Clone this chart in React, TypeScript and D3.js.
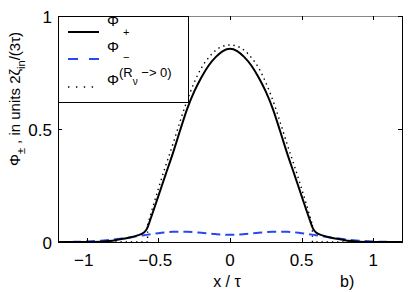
import React, { useEffect, useRef } from 'react';
import * as d3 from 'd3';

// Φ+ (solid black)
const plusX = [-1.2, -1.0, -0.9, -0.85, -0.8, -0.75, -0.7, -0.65, -0.6, -0.58, -0.55, -0.5, -0.45, -0.4, -0.35, -0.3, -0.25, -0.2, -0.15, -0.1, -0.05, 0,
  0.05, 0.1, 0.15, 0.2, 0.25, 0.3, 0.35, 0.4, 0.45, 0.5, 0.55, 0.58, 0.6, 0.65, 0.7, 0.75, 0.8, 0.85, 0.9, 1.0, 1.2];
const plusY = [0, 0, 0.001, 0.004, 0.008, 0.014, 0.02, 0.028, 0.042, 0.058, 0.11, 0.203, 0.297, 0.39, 0.49, 0.587, 0.665, 0.728, 0.78, 0.818, 0.845, 0.855,
  0.845, 0.818, 0.78, 0.728, 0.665, 0.587, 0.49, 0.39, 0.297, 0.203, 0.11, 0.058, 0.042, 0.028, 0.02, 0.014, 0.008, 0.004, 0.001, 0, 0];

// Φ- (blue dashed)
const minusX = [-1.2, -1.1, -1.0, -0.9, -0.8, -0.7, -0.6, -0.5, -0.4, -0.3, -0.2, -0.1, 0, 0.1, 0.2, 0.3, 0.4, 0.5, 0.6, 0.7, 0.8, 0.9, 1.0, 1.1, 1.2];
const minusY = [0, 0.0005, 0.002, 0.006, 0.012, 0.02, 0.03, 0.039, 0.045, 0.045, 0.041, 0.035, 0.032, 0.035, 0.041, 0.045, 0.045, 0.039, 0.03, 0.02, 0.012, 0.006, 0.002, 0.0005, 0];

// Φ(Rν -> 0) (dotted), central part plus zero tails
const dotX = [-0.575, -0.55, -0.5, -0.45, -0.4, -0.35, -0.3, -0.25, -0.2, -0.15, -0.1, -0.05, 0, 0.05, 0.1, 0.15, 0.2, 0.25, 0.3, 0.35, 0.4, 0.45, 0.5, 0.55, 0.575];
const dotY = [0.075, 0.13, 0.235, 0.335, 0.43, 0.53, 0.625, 0.705, 0.77, 0.815, 0.848, 0.866, 0.872, 0.866, 0.848, 0.815, 0.77, 0.705, 0.625, 0.53, 0.43, 0.335, 0.235, 0.13, 0.075];
const dotTailLeftX = [-1.2, -0.575, -0.575];
const dotTailLeftY = [0, 0, 0.075];
const dotTailRightX = [0.575, 0.575, 1.2];
const dotTailRightY = [0.075, 0, 0];

const xTicks = [-1, -0.5, 0, 0.5, 1];
const xTickLabels = ['−1', '−0.5', '0', '0.5', '1'];
const yTicks = [0, 0.5, 1];
const yTickLabels = ['0', '0.5', '1'];

const W = 409;
const H = 292;
const FONT = '"Liberation Sans", Arial, Helvetica, sans-serif';

export default function App() {
  const ref = useRef<SVGSVGElement | null>(null);

  useEffect(() => {
    if (!ref.current) return;
    const svg = d3.select(ref.current);
    svg.selectAll('*').remove();

    const left = 58, right = 402, top = 16, bottom = 242;
    const x = d3.scaleLinear().domain([-1.2, 1.2]).range([left, right]);
    const y = d3.scaleLinear().domain([0, 1]).range([bottom, top]);

    svg.append('rect').attr('width', W).attr('height', H).attr('fill', '#fff');

    const mk = (xs: number[], ys: number[], curve: d3.CurveFactory) =>
      d3.line<number>().x((_, i) => x(xs[i])).y((_, i) => y(ys[i])).curve(curve)(xs) as string;

    const plot = svg.append('g');

    // dotted reference curve
    const dotStyle = (p: d3.Selection<SVGPathElement, unknown, null, undefined>) =>
      p.attr('fill', 'none').attr('stroke', '#000').attr('stroke-width', 1.4).attr('stroke-dasharray', '1.4,3.8');
    plot.append('path').attr('d', mk(dotX, dotY, d3.curveMonotoneX)).call(dotStyle);
    plot.append('path').attr('d', mk(dotTailLeftX, dotTailLeftY, d3.curveLinear)).call(dotStyle);
    plot.append('path').attr('d', mk(dotTailRightX, dotTailRightY, d3.curveLinear)).call(dotStyle);

    // blue dashed
    plot.append('path').attr('d', mk(minusX, minusY, d3.curveMonotoneX))
      .attr('fill', 'none').attr('stroke', '#2748f2').attr('stroke-width', 2)
      .attr('stroke-dasharray', '9,5');

    // solid black
    plot.append('path').attr('d', mk(plusX, plusY, d3.curveMonotoneX))
      .attr('fill', 'none').attr('stroke', '#000').attr('stroke-width', 2);

    // axes box
    const ax = svg.append('g').attr('stroke-width', 1);
    ax.append('line').attr('x1', left).attr('x2', right).attr('y1', top + 0.5).attr('y2', top + 0.5).attr('stroke', '#888');
    ax.append('line').attr('x1', left).attr('x2', right + 0.5).attr('y1', bottom + 0.5).attr('y2', bottom + 0.5).attr('stroke', '#000');
    ax.append('line').attr('x1', left + 0.5).attr('x2', left + 0.5).attr('y1', top).attr('y2', bottom + 1).attr('stroke', '#000');
    ax.append('line').attr('x1', right + 0.5).attr('x2', right + 0.5).attr('y1', top).attr('y2', bottom + 1).attr('stroke', '#000');

    const tl = 4;
    xTicks.forEach(t => {
      const px = Math.round(x(t)) + 0.5;
      ax.append('line').attr('x1', px).attr('x2', px).attr('y1', bottom).attr('y2', bottom - tl).attr('stroke', '#000');
      ax.append('line').attr('x1', px).attr('x2', px).attr('y1', top).attr('y2', top + tl).attr('stroke', '#000');
    });
    yTicks.forEach(t => {
      const py = Math.round(y(t)) + 0.5;
      ax.append('line').attr('x1', left).attr('x2', left + tl).attr('y1', py).attr('y2', py).attr('stroke', '#000');
      ax.append('line').attr('x1', right).attr('x2', right - tl).attr('y1', py).attr('y2', py).attr('stroke', '#000');
    });

    const txt = svg.append('g').attr('font-family', FONT).attr('fill', '#000');
    xTicks.forEach((t, i) => {
      txt.append('text').attr('x', x(t) - (t < 0 ? 3 : 0)).attr('y', 266).attr('text-anchor', 'middle')
        .attr('font-size', 17).text(xTickLabels[i]);
    });
    yTicks.forEach((t, i) => {
      txt.append('text').attr('x', 52).attr('y', y(t) + 6.5).attr('text-anchor', 'end')
        .attr('font-size', 17).text(yTickLabels[i]);
    });

    txt.append('text').attr('x', 227).attr('y', 287).attr('text-anchor', 'middle').attr('font-size', 16).text('x / τ');
    txt.append('text').attr('x', 340).attr('y', 287).attr('font-size', 16).text('b)');

    // y label
    const yl = txt.append('text').attr('transform', 'translate(20,99) rotate(-90)')
      .attr('text-anchor', 'middle').attr('font-size', 15);
    yl.append('tspan').text('Φ');
    yl.append('tspan').attr('dy', 5).attr('font-size', 11).text('±');
    yl.append('tspan').attr('dy', -5).text(' , in units  2ζ');
    yl.append('tspan').attr('dy', 5).attr('font-size', 11).text('in');
    yl.append('tspan').attr('dy', -5).text('/(3τ)');

    // legend
    const lg = svg.append('g');
    lg.append('rect').attr('x', left + 0.5).attr('y', top + 0.5).attr('width', 188 - left).attr('height', 102 - top)
      .attr('fill', '#fff').attr('stroke', '#000').attr('stroke-width', 1);
    lg.append('line').attr('x1', 68).attr('x2', 99).attr('y1', 32).attr('y2', 32).attr('stroke', '#000').attr('stroke-width', 2);
    lg.append('line').attr('x1', 68).attr('x2', 99).attr('y1', 59).attr('y2', 59).attr('stroke', '#2748f2').attr('stroke-width', 2)
      .attr('stroke-dasharray', '10,11');
    lg.append('line').attr('x1', 68).attr('x2', 99).attr('y1', 87).attr('y2', 87).attr('stroke', '#000').attr('stroke-width', 1.4)
      .attr('stroke-dasharray', '1.4,6.5');

    const lt = lg.append('g').attr('font-family', FONT).attr('fill', '#000');
    const e1 = lt.append('text').attr('x', 107).attr('y', 26).attr('font-size', 15);
    e1.append('tspan').text('Φ');
    e1.append('tspan').attr('dx', 4).attr('dy', 10).attr('font-size', 11).text('+');
    const e2 = lt.append('text').attr('x', 107).attr('y', 52).attr('font-size', 15);
    e2.append('tspan').text('Φ');
    e2.append('tspan').attr('dx', 4).attr('dy', 9).attr('font-size', 11).text('−');
    const e3 = lt.append('text').attr('x', 107).attr('y', 85).attr('font-size', 15);
    e3.append('tspan').text('Φ');
    e3.append('tspan').attr('dy', -8).attr('font-size', 13).text('(R');
    e3.append('tspan').attr('dy', 8).attr('font-size', 10).text('ν');
    e3.append('tspan').attr('dy', -8).attr('font-size', 13).text(' −> 0)');
  }, []);

  return (
    <svg ref={ref} width={W} height={H}
      style={{ position: 'absolute', left: 0, top: 0, display: 'block', background: '#fff' }} />
  );
}
